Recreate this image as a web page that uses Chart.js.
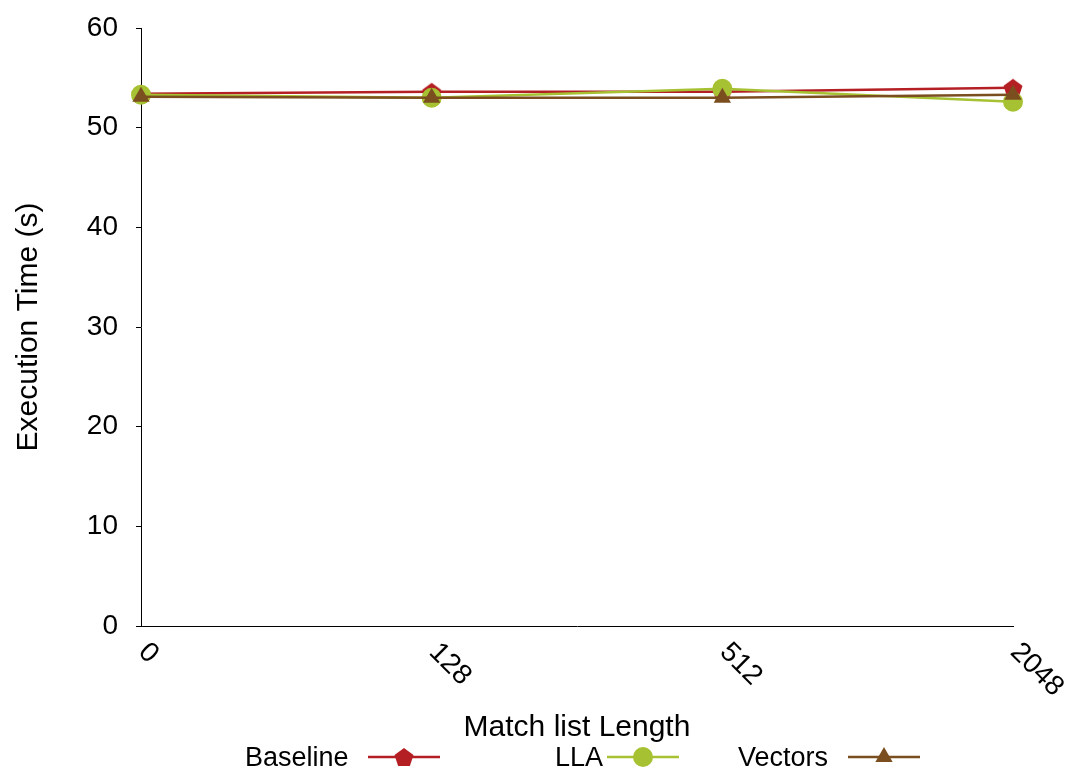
<!DOCTYPE html>
<html>
<head>
<meta charset="utf-8">
<script src="https://cdn.jsdelivr.net/npm/chart.js@4"></script>
<style>
  html, body { margin: 0; padding: 0; background: #fff; }
  #wrap { width: 1068px; height: 768px; position: relative; }
</style>
</head>
<body>
<div id="wrap"><canvas id="chart"></canvas></div>
<script>
// Match list lengths on the x axis (categorical, evenly spaced)
const categories = ['0', '128', '512', '2048'];

// Execution time in seconds
const baseline = [53.4, 53.6, 53.6, 54.0];
const lla      = [53.3, 53.0, 53.9, 52.6];
const vectors  = [53.1, 53.0, 53.0, 53.3];

const yTicks = [0, 10, 20, 30, 40, 50, 60];

const COLORS = {
  baseline: '#b41f24',
  lla:      '#a6c232',
  vectors:  '#7a4e1f',
};

const FONT = 'Liberation Sans, Arial, Helvetica, sans-serif';

// Chart.js has no pentagon point style, so build one as a small canvas
function pentagon(color, r) {
  const c = document.createElement('canvas');
  const s = Math.ceil(r * 2 + 2);
  c.width = s; c.height = s;
  const g = c.getContext('2d');
  g.fillStyle = color;
  g.beginPath();
  for (let i = 0; i < 5; i++) {
    const a = -Math.PI / 2 + i * 2 * Math.PI / 5;
    const px = s / 2 + r * Math.cos(a), py = s / 2 + r * Math.sin(a) + 1;
    if (i === 0) g.moveTo(px, py); else g.lineTo(px, py);
  }
  g.closePath();
  g.fill();
  return c;
}
const pentImg = pentagon(COLORS.baseline, 10);

function series(label, data, color, style, radius, order) {
  return {
    label, data, order,
    borderColor: color,
    backgroundColor: color,
    borderWidth: 2.5,
    pointStyle: style,
    pointRadius: radius,
    pointHoverRadius: radius,
    pointBorderWidth: 0,
    tension: 0,
  };
}

// Tick labels run down-right at 45 degrees, which Chart.js can't do itself
const xLabelPlugin = {
  id: 'xLabels',
  afterDraw(chart) {
    const { ctx, scales: { x } } = chart;
    ctx.save();
    ctx.font = '28px ' + FONT;
    ctx.fillStyle = '#000';
    ctx.textAlign = 'left';
    ctx.textBaseline = 'middle';
    x.ticks.forEach((t, i) => {
      const px = x.getPixelForTick(i);
      ctx.save();
      ctx.translate(px + 6, x.top + 26);
      ctx.rotate(Math.PI / 4);
      ctx.fillText(categories[i], -6, 0);
      ctx.restore();
    });
    ctx.restore();
  },
};

// Legend: text then a line sample with the marker on it
const legendPlugin = {
  id: 'lineLegend',
  afterDraw(chart) {
    const { ctx } = chart;
    const y = 757;
    const items = [
      { text: 'Baseline', tx: 245, lx: 368, ds: 0 },
      { text: 'LLA',      tx: 555, lx: 607, ds: 1 },
      { text: 'Vectors',  tx: 738, lx: 848, ds: 2 },
    ];
    ctx.save();
    ctx.font = '27px ' + FONT;
    ctx.textBaseline = 'middle';
    ctx.textAlign = 'left';
    items.forEach(it => {
      const d = chart.data.datasets[it.ds];
      ctx.fillStyle = '#000';
      ctx.fillText(it.text, it.tx, y + 2);
      ctx.strokeStyle = d.borderColor;
      ctx.lineWidth = 2.5;
      ctx.beginPath();
      ctx.moveTo(it.lx, y);
      ctx.lineTo(it.lx + 72, y);
      ctx.stroke();
      const opts = { pointStyle: d.pointStyle, radius: d.pointRadius, borderWidth: 0,
                     backgroundColor: d.backgroundColor, borderColor: d.borderColor };
      ctx.fillStyle = d.backgroundColor;
      Chart.helpers.drawPoint(ctx, opts, it.lx + 36, y);
    });
    ctx.restore();
  },
};

new Chart(document.getElementById('chart'), {
  type: 'line',
  data: {
    labels: categories,
    datasets: [
      series('Baseline', baseline, COLORS.baseline, pentImg, 10, 3),
      series('LLA', lla, COLORS.lla, 'circle', 10, 2),
      series('Vectors', vectors, COLORS.vectors, 'triangle', 10, 1),
    ],
  },
  options: {
    responsive: true,
    maintainAspectRatio: false,
    animation: false,
    layout: { padding: { left: 0, right: 55, top: 28, bottom: 22 } },
    plugins: {
      legend: { display: false },
      tooltip: { enabled: false },
    },
    scales: {
      x: {
        offset: false,
        grid: { display: false, drawTicks: false },
        border: { color: '#000', width: 1 },
        ticks: { display: false },
        title: {
          display: true,
          text: 'Match list Length',
          color: '#000',
          font: { family: FONT, size: 30 },
          padding: { top: 84, bottom: 0 },
        },
        afterFit: (s) => { s.paddingLeft = 0; s.paddingRight = 0; },
      },
      y: {
        min: 0,
        max: 60,
        afterBuildTicks: (s) => { s.ticks = yTicks.map(v => ({ value: v })); },
        grid: { display: true, drawOnChartArea: false, tickLength: 5, color: '#000' },
        border: { color: '#000', width: 1 },
        ticks: {
          color: '#000',
          padding: 18,
          font: { family: FONT, size: 28 },
        },
        title: {
          display: true,
          text: 'Execution Time (s)',
          color: '#000',
          font: { family: FONT, size: 30 },
          padding: { top: 11, bottom: 0 },
        },
        afterFit: (s) => { s.width = 141; s.paddingTop = 0; s.paddingBottom = 0; },
      },
    },
  },
  plugins: [xLabelPlugin, legendPlugin],
});
</script>
</body>
</html>
